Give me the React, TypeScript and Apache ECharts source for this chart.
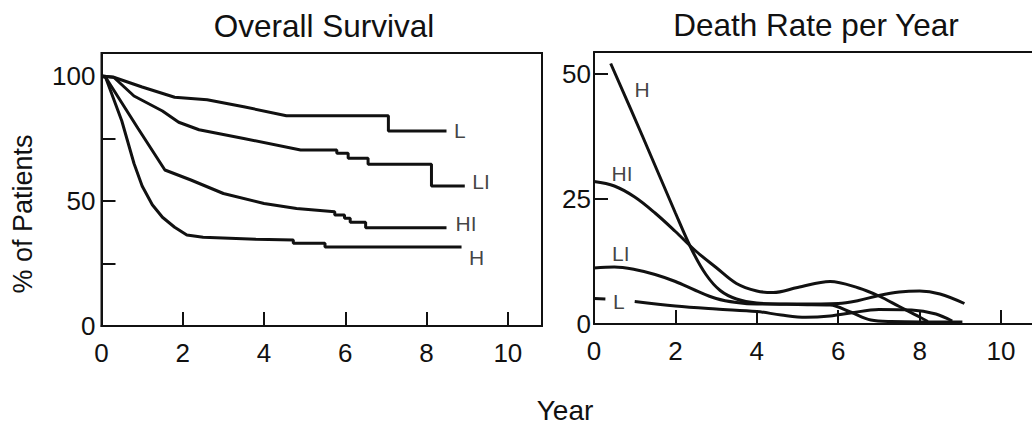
import React, { useEffect, useRef } from "react";
import * as echarts from "echarts";

// ---------- Overall Survival (% of patients) ----------
const survL = [[0,100],[0.3,99.5],[1.0,95.6],[1.8,91.5],[2.6,90.5],[3.5,87.7],[4.55,84.1],[7.06,84.1],[7.06,78],[8.49,78]];
const survLI = [[0,100],[0.3,99.5],[0.8,92],[1.5,86],[1.9,81.5],[2.4,78.5],[3.5,75],[4.9,70.4],[5.79,70.4],[5.79,69.1],[6.07,69.1],[6.07,67.1],[6.56,67.1],[6.56,64.7],[8.12,64.7],[8.12,56],[8.94,56]];
const survHI = [[0,100],[0.1,99.5],[0.9,79],[1.56,62.4],[2.2,58.4],[3.0,53],[4.0,49],[4.8,47],[5.74,45.7],[5.74,44.4],[5.98,44.4],[5.98,43.1],[6.12,43.1],[6.12,41.5],[6.5,41.5],[6.5,39.3],[8.49,39.3]];
const survH = [[0,100],[0.1,99.5],[0.5,82],[0.8,65],[1.0,56],[1.25,48.5],[1.5,43.5],[1.8,39.5],[2.1,36.4],[2.5,35.5],[3.8,34.7],[4.72,34.4],[4.72,33.1],[5.5,33.1],[5.5,31.6],[8.86,31.6]];
const survLabels = [
  { name: "L", value: [8.82, 78.4] },
  { name: "LI", value: [9.34, 57.8] },
  { name: "HI", value: [8.97, 41.1] },
  { name: "H", value: [9.23, 27.4] },
];

// ---------- Death Rate per Year ----------
const rateH = [[0.41,52.1],[1.2,37.4],[2.0,22.2],[2.4,14.9],[2.75,9.9],[3.1,6.7],[3.5,5.0],[4.0,4.2],[5.0,3.9],[5.8,3.8],[6.3,2.4],[6.8,0.8],[7.3,0.5],[9.05,0.4]];
const rateHI = [[0,28.5],[0.5,27.6],[1.0,25.4],[1.5,22.2],[2.0,18.5],[2.5,14.6],[3.0,11.3],[3.5,8.1],[4.0,6.6],[4.4,6.3],[5.0,7.3],[5.8,8.5],[6.5,7.2],[7.0,5.6],[7.5,3.5],[8.0,1.4],[8.2,0.5]];
const rateLI = [[0,11.2],[0.5,11.4],[1.0,10.9],[1.5,9.9],[2.0,8.5],[2.5,6.7],[3.0,5.1],[3.5,4.3],[4.0,4.0],[5.0,4.0],[6.0,4.1],[6.5,4.7],[7.0,5.7],[7.5,6.4],[8.0,6.6],[8.5,6.0],[9.1,4.1]];
const rateL = [[0,5.1],[0.28,5.0],[0.6,"-"],[1.0,4.5],[2.0,3.6],[3.0,3.0],[4.0,2.5],[4.6,1.8],[5.2,1.35],[5.8,1.6],[6.3,2.2],[7.0,2.9],[7.8,2.8],[8.4,2.0],[8.8,0.6]];
const rateLabels = [
  { name: "H", value: [1.18, 47] },
  { name: "HI", value: [0.69, 30.2] },
  { name: "LI", value: [0.66, 14.2] },
  { name: "L", value: [0.61, 4.6] },
];

const survYLabels = [0, 50, 100];
const survYTicks = [25, 50, 75];
const rateYLabels = [0, 25, 50];
const rateYTicks = [25, 50];
const xLabels = [0, 2, 4, 6, 8, 10];
const xTicks = [2, 4, 6, 8, 10];

const INK = "#111";
const FONT = '"Liberation Sans", Arial, Helvetica, sans-serif';

export default function App() {
  const ref = useRef<HTMLDivElement>(null);
  useEffect(() => {
    document.body.style.margin = "0";
    const chart = echarts.init(ref.current!, null, { renderer: "svg" });

    const lineSeries = (data: any[], xi: number, smooth: any, name: string) => ({
      type: "line",
      name,
      xAxisIndex: xi,
      yAxisIndex: xi,
      data,
      smooth,
      showSymbol: false,
      symbol: "none",
      connectNulls: false,
      lineStyle: { color: INK, width: 3 },
      z: 3,
    });
    const labelSeries = (data: any[], xi: number) => ({
      type: "scatter",
      xAxisIndex: xi,
      yAxisIndex: xi,
      data,
      symbolSize: 1,
      itemStyle: { color: "rgba(0,0,0,0)" },
      label: {
        show: true,
        position: "inside",
        formatter: "{b}",
        color: INK,
        fontSize: 21,
        fontFamily: FONT,
      },
      z: 4,
    });

    const xAxisBase = (gi: number, max: number) => ({
      type: "value",
      gridIndex: gi,
      min: 0,
      max,
      axisLine: { show: true, lineStyle: { color: INK, width: 2 } },
      axisTick: { show: true, inside: true, length: 14, customValues: xTicks, lineStyle: { color: INK, width: 2 } },
      axisLabel: { customValues: xLabels, color: INK, fontSize: 26, fontFamily: FONT, margin: 14 },
      splitLine: { show: false },
    });
    const RATE_XMAX = 10.76;

    chart.setOption({
      animation: false,
      backgroundColor: "#fff",
      grid: [
        { left: 101.5, top: 53, width: 440.5, height: 273, show: true, borderColor: INK, borderWidth: 2 },
        { left: 594, top: 52, right: 0, height: 272, show: false },
      ],
      xAxis: [
        xAxisBase(0, 10.84),
        xAxisBase(1, RATE_XMAX),
        {
          type: "value",
          gridIndex: 1,
          position: "top",
          min: 0,
          max: RATE_XMAX,
          axisLine: { show: true, onZero: false, lineStyle: { color: INK, width: 2 } },
          axisTick: { show: false },
          axisLabel: { show: false },
          splitLine: { show: false },
        },
      ],
      yAxis: [
        {
          type: "value",
          gridIndex: 0,
          min: 0,
          max: 109.2,
          axisLine: { show: true, lineStyle: { color: INK, width: 2 } },
          axisTick: { show: true, inside: true, length: 14, customValues: survYTicks, lineStyle: { color: INK, width: 2 } },
          axisLabel: { customValues: survYLabels, color: INK, fontSize: 26, fontFamily: FONT, margin: 6 },
          splitLine: { show: false },
        },
        {
          type: "value",
          gridIndex: 1,
          min: 0,
          max: 54.4,
          axisLine: { show: true, lineStyle: { color: INK, width: 2 } },
          axisTick: { show: true, inside: true, length: 14, customValues: rateYTicks, lineStyle: { color: INK, width: 2 } },
          axisLabel: { customValues: rateYLabels, color: INK, fontSize: 26, fontFamily: FONT, margin: 3 },
          splitLine: { show: false },
        },
      ],
      graphic: [
        { type: "text", x: 324, y: 26, style: { text: "Overall Survival", fill: INK, font: `31.5px ${FONT}`, textAlign: "center", textVerticalAlign: "middle", align: "center", verticalAlign: "middle" } },
        { type: "text", x: 816, y: 25, style: { text: "Death Rate per Year", fill: INK, font: `31.5px ${FONT}`, textAlign: "center", textVerticalAlign: "middle", align: "center", verticalAlign: "middle" } },
        { type: "text", x: 23, y: 214, rotation: Math.PI / 2, style: { text: "% of Patients", fill: INK, font: `27px ${FONT}`, textAlign: "center", textVerticalAlign: "middle", align: "center", verticalAlign: "middle" } },
        { type: "text", x: 565, y: 410, style: { text: "Year", fill: INK, font: `28px ${FONT}`, textAlign: "center", textVerticalAlign: "middle", align: "center", verticalAlign: "middle" } },
      ],
      series: [
        lineSeries(survL, 0, false, "L"),
        lineSeries(survLI, 0, false, "LI"),
        lineSeries(survHI, 0, false, "HI"),
        lineSeries(survH, 0, false, "H"),
        labelSeries(survLabels, 0),
        lineSeries(rateH, 1, 0.35, "H"),
        lineSeries(rateHI, 1, 0.35, "HI"),
        lineSeries(rateLI, 1, 0.35, "LI"),
        lineSeries(rateL, 1, 0.35, "L"),
        labelSeries(rateLabels, 1),
      ],
    });
    return () => chart.dispose();
  }, []);
  return <div ref={ref} style={{ width: 1032, height: 424 }} />;
}
